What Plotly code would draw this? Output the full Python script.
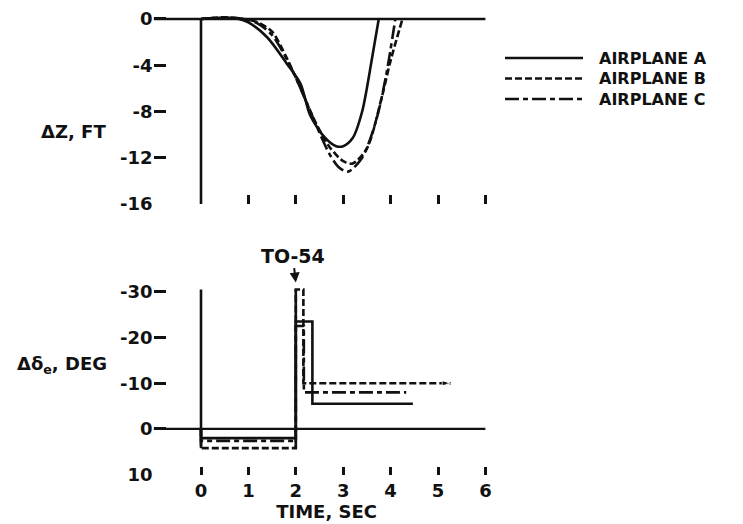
import plotly.graph_objects as go

# ---------------- data ----------------
# top panel: altitude change, ft
a_t = [0, 0.5, 0.8, 1.0, 1.4, 1.8, 2.1, 2.3, 2.6, 2.85, 3.0, 3.2, 3.4, 3.6, 3.75]
a_z = [0, 0.1, 0, -0.3, -1.6, -3.8, -5.6, -8.3, -10.2, -11.0, -11.0, -10.3, -8.0, -3.6, 0]
b_t = [0, 0.5, 0.9, 1.2, 1.5, 1.8, 2.1, 2.4, 2.7, 3.0, 3.2, 3.5, 3.8, 4.0, 4.25]
b_z = [0, 0.15, 0, -0.3, -1.1, -3.3, -6.0, -8.8, -11.0, -12.3, -12.5, -11.2, -7.0, -3.6, 0]
c_t = [0, 0.5, 0.9, 1.2, 1.5, 1.8, 2.1, 2.4, 2.7, 2.9, 3.1, 3.4, 3.7, 3.9, 4.1]
c_z = [0, 0.1, 0, -0.4, -1.4, -3.4, -6.0, -8.9, -11.6, -12.8, -13.2, -12.0, -8.7, -5.0, 0]

# bottom panel: elevator deflection, deg (step inputs)
a_dt = [0, 0, 2, 2, 2.35, 2.35, 4.47]
a_de = [0, 2.0, 2.0, -23.5, -23.5, -5.5, -5.5]
b_dt = [0, 0, 2, 2, 2.16, 2.16, 5.27]
b_de = [0, 4.2, 4.2, -30.5, -30.5, -10.0, -10.0]
c_dt = [0, 0, 2, 2, 2.17, 2.17, 4.33]
c_de = [0, 2.6, 2.6, -22.5, -22.5, -8.0, -8.0]

names = ["AIRPLANE A", "AIRPLANE B", "AIRPLANE C"]
dashes = ["solid", "7px,3px", "14px,4px,5px,4px"]

top_ticks = [0, -4, -8, -12, -16]
top_ticktext = ["0", "-4", "-8", "-12", "-16"]
bot_ticks = [-30, -20, -10, 0, 10]
bot_ticktext = ["-30", "-20", "-10", "0", "10"]
time_ticks = [0, 1, 2, 3, 4, 5, 6]
time_ticktext = ["0", "1", "2", "3", "4", "5", "6"]

zero_t = [-1, 6]
ref_top = [0, -16]
ref_bot = [-30.5, 4.2]
ref_bot_t = [0, 2]
cue_t, cue_de = 2, -32

# ---------------- figure ----------------
W, H = 743, 524
FONT = "DejaVu Sans"
INK = "#111111"
LW = 2.6

fig = go.Figure()

for i, (t, z) in enumerate([(a_t, a_z), (b_t, b_z), (c_t, c_z)]):
    fig.add_trace(go.Scatter(x=t, y=z, mode="lines", name=names[i],
                             line=dict(color=INK, width=LW, dash=dashes[i], shape="spline", smoothing=0.8),
                             xaxis="x", yaxis="y", showlegend=False))

for i, (t, d) in enumerate([(a_dt, a_de), (b_dt, b_de), (c_dt, c_de)]):
    n = len(t)
    kw = dict(mode="lines")
    if i == 1:
        kw = dict(mode="lines+markers",
                  marker=dict(symbol="arrow", angleref="previous",
                              size=[0] * (n - 1) + [9], color=INK))
    fig.add_trace(go.Scatter(x=t, y=d, name=names[i],
                             line=dict(color=INK, width=LW, dash=dashes[i]),
                             xaxis="x2", yaxis="y2", showlegend=False, **kw))

# reference lines
fig.add_shape(type="line", xref="x", yref="y", x0=zero_t[0], x1=zero_t[1], y0=0, y1=0,
              line=dict(color=INK, width=2.4))
fig.add_shape(type="line", xref="x", yref="y", x0=0, x1=0, y0=ref_top[0], y1=ref_top[1],
              line=dict(color=INK, width=2.6))
fig.add_shape(type="line", xref="x2", yref="y2", x0=zero_t[0], x1=zero_t[1], y0=0, y1=0,
              line=dict(color=INK, width=2.2))
for tt in ref_bot_t:
    fig.add_shape(type="line", xref="x2", yref="y2", x0=tt, x1=tt, y0=ref_bot[0], y1=ref_bot[1],
                  line=dict(color=INK, width=2.6))

# key (legend) at right
key_x0, key_x1, key_tx = 505, 583, 597
key_y = [58, 78.5, 99]
for i in range(3):
    fig.add_shape(type="line", xref="paper", yref="paper",
                  x0=key_x0 / W, x1=key_x1 / W, y0=1 - key_y[i] / H, y1=1 - key_y[i] / H,
                  line=dict(color=INK, width=LW, dash=dashes[i]))
    fig.add_annotation(xref="paper", yref="paper", x=key_tx / W, y=1 - key_y[i] / H,
                       xanchor="left", yanchor="middle", text=names[i], showarrow=False,
                       font=dict(family=FONT, size=16, color=INK, weight="bold"))

x_range = [-1, 6.3]
x_dom = [153.6 / W, (201 + 6.3 * 47.4) / W]

tickfont = dict(family=FONT, size=18, color=INK, weight="bold")

fig.update_layout(
    width=W, height=H,
    margin=dict(l=0, r=0, t=0, b=0, autoexpand=False),
    paper_bgcolor="white", plot_bgcolor="white",
    showlegend=False,
    xaxis=dict(domain=x_dom, range=x_range, anchor="y", showgrid=False, zeroline=False,
               showline=False, tickmode="array", tickvals=time_ticks[1:], showticklabels=False,
               ticks="inside", ticklen=9, tickwidth=2.5, tickcolor=INK, automargin=False),
    yaxis=dict(domain=[(H - 204) / H, (H - 7.4) / H], range=[-16, 1], anchor="x",
               showgrid=False, zeroline=False, showline=False,
               tickmode="array", tickvals=top_ticks, ticktext=top_ticktext,
               ticks="inside", ticklen=12, tickwidth=2.5, tickcolor=INK, tickfont=tickfont,
               automargin=False),
    xaxis2=dict(domain=x_dom, range=x_range, anchor="free", position=(H - 466) / H,
                showgrid=False, zeroline=False, showline=False,
                tickmode="array", tickvals=time_ticks, ticktext=time_ticktext,
                ticks="outside", ticklen=8, tickwidth=2.5, tickcolor=INK, tickfont=tickfont,
                automargin=False,
                title=dict(text="TIME, SEC", font=dict(family=FONT, size=18, color=INK, weight="bold"),
                           standoff=0)),
    yaxis2=dict(domain=[(H - 474.7) / H, (H - 278) / H], range=[10, -33], anchor="x2",
                showgrid=False, zeroline=False, showline=False,
                tickmode="array", tickvals=bot_ticks, ticktext=bot_ticktext,
                ticks="inside", ticklen=12, tickwidth=2.5, tickcolor=INK, tickfont=tickfont,
                automargin=False),
)

fig.add_annotation(xref="paper", yref="paper", x=73 / W, y=1 - 131 / H, text="ΔZ, FT",
                   xanchor="center", yanchor="middle",
                   showarrow=False, font=dict(family=FONT, size=18, color=INK, weight="bold"))
fig.add_annotation(xref="paper", yref="paper", x=62 / W, y=1 - 365 / H, text="Δδ<sub>e</sub>, DEG",
                   xanchor="center", yanchor="middle",
                   showarrow=False, font=dict(family=FONT, size=18, color=INK, weight="bold"))
fig.add_annotation(xref="x2", yref="y2", x=cue_t, y=cue_de, text="TO-54",
                   showarrow=True, arrowhead=2, arrowsize=1, arrowwidth=2, arrowcolor=INK,
                   ax=-3, ay=-27, font=dict(family=FONT, size=19, color=INK, weight="bold"))

fig.write_html("out.html")
